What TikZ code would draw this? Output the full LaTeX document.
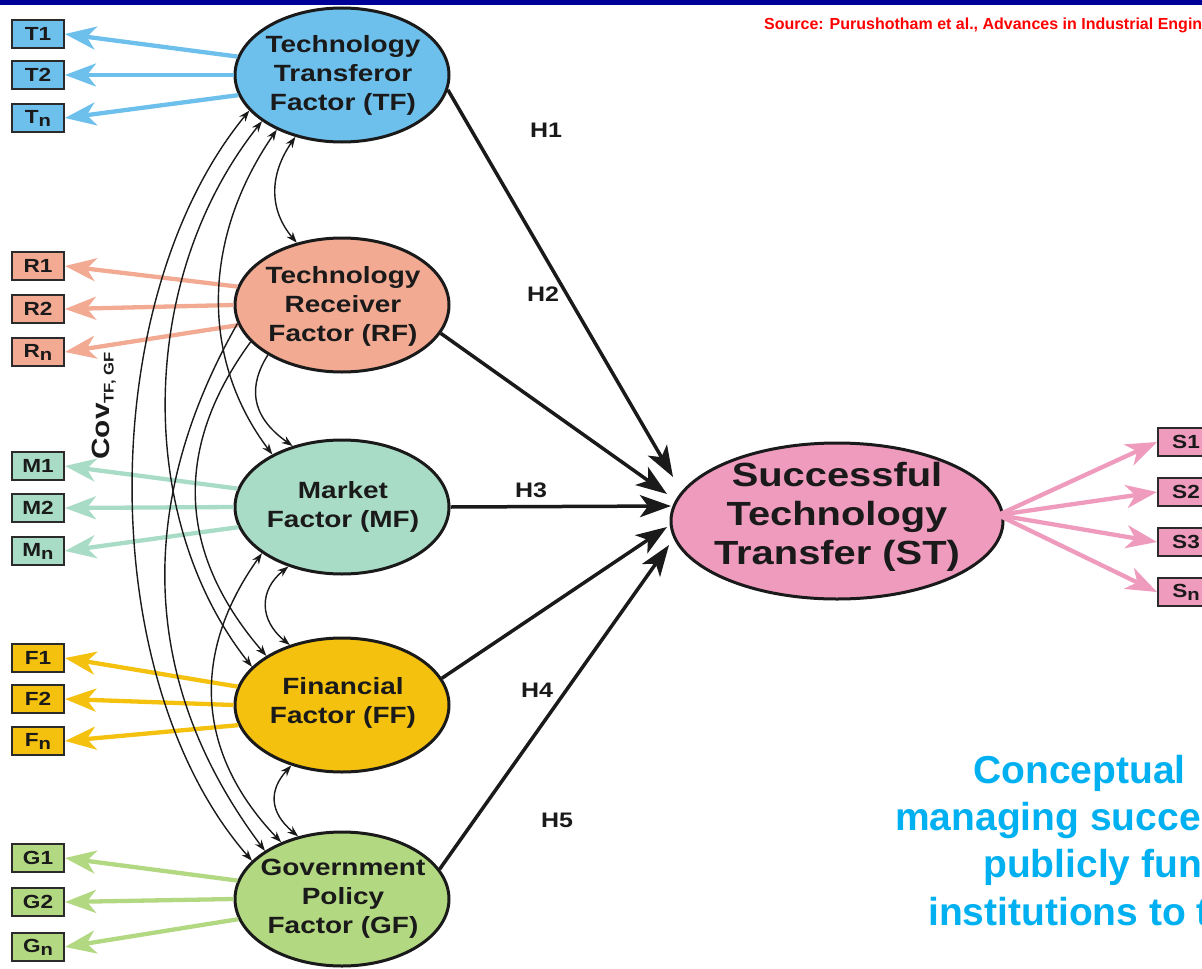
\documentclass[tikz,border=0pt]{standalone}
\usepackage{fontspec}
\setmainfont{Liberation Sans}[FakeStretch=1.19]
\newfontfamily\plainsans{Liberation Sans}
\usetikzlibrary{arrows.meta,shapes.geometric}
\definecolor{ink}{HTML}{1A1A1A}
\definecolor{boxline}{HTML}{2B2B2B}
\definecolor{tfc}{HTML}{6DC0EC}
\definecolor{rfc}{HTML}{F2AA93}
\definecolor{mfc}{HTML}{A9DCC7}
\definecolor{ffc}{HTML}{F5C10F}
\definecolor{gfc}{HTML}{B3D882}
\definecolor{stc}{HTML}{EF9BBE}
\definecolor{barblue}{HTML}{000099}
\definecolor{srcred}{HTML}{FF0000}
\definecolor{titleblue}{HTML}{00B0F0}
\newcommand{\subn}{\raisebox{-3pt}{\fontsize{17}{17}\selectfont n}}
\begin{document}
\begin{tikzpicture}[x=1pt,y=-1pt,
  ell/.style={ellipse, draw=ink, line width=3pt, minimum width=214pt, minimum height=134pt, inner sep=0pt},
  etxt/.style={align=center, font=\bfseries\fontsize{23.5}{29}\selectfont, text=ink, inner sep=0pt},
  ibox/.style={draw=boxline, line width=2pt, minimum width=52pt, minimum height=28pt, inner sep=0pt, font=\bfseries\fontsize{19}{19}\selectfont, text=ink},
  ind/.style={line width=4.3pt, -{Stealth[length=31pt,width=23pt,inset=9pt]}},
  hyp/.style={line width=3.5pt, draw=ink, -{Stealth[length=31pt,width=22pt,inset=8pt]}},
  cov/.style={line width=1.4pt, draw=ink, {Stealth[length=11pt,width=8pt]}-{Stealth[length=11pt,width=8pt]}},
  covone/.style={line width=1.4pt, draw=ink, -{Stealth[length=11pt,width=8pt]}},
  hlab/.style={font=\bfseries\fontsize{21}{21}\selectfont, text=ink}]
\useasboundingbox (0,0) rectangle (1202,969);
\fill[white] (0,0) rectangle (1202,969);
\fill[barblue] (0,0) rectangle (1202,5);
\node[anchor=base west, font=\plainsans\bfseries\fontsize{16}{16}\selectfont, text=srcred, inner sep=0pt] (src) at (764,29) {Source: Purushotham et al., Advances in Industrial Engine};

% latent factors
\node[ell, fill=tfc] (TF) at (342,75) {};
\node[ell, fill=rfc] (RF) at (342,305) {};
\node[ell, fill=mfc] (MF) at (342,507) {};
\node[ell, fill=ffc] (FF) at (342,705) {};
\node[ell, fill=gfc] (GF) at (342,899) {};
\node[ellipse, draw=ink, line width=3pt, minimum width=332pt, minimum height=156pt, inner sep=0pt, fill=stc] (ST) at (837,521) {};
\node[etxt] (TFt) at (343,75) {Technology\\Transferor\\Factor (TF)};
\node[etxt] (RFt) at (343,306) {Technology\\Receiver\\Factor (RF)};
\node[etxt] (MFt) at (343,507) {Market\\Factor (MF)};
\node[etxt] (FFt) at (343,703) {Financial\\Factor (FF)};
\node[etxt] (GFt) at (343,899) {Government\\Policy\\Factor (GF)};
\node[etxt, font=\bfseries\fontsize{33.5}{39}\selectfont] (STt) at (837,517) {Successful\\Technology\\Transfer (ST)};

% indicator boxes
\node[ibox, fill=tfc] (T1) at (38,34) {T1};
\node[ibox, fill=tfc] (T2) at (38,75) {T2};
\node[ibox, fill=tfc] (Tn) at (38,118) {T\subn};
\node[ibox, fill=rfc] (R1) at (38,266) {R1};
\node[ibox, fill=rfc] (R2) at (38,309) {R2};
\node[ibox, fill=rfc] (Rn) at (38,352) {R\subn};
\node[ibox, fill=mfc] (M1) at (38,466) {M1};
\node[ibox, fill=mfc] (M2) at (38,508) {M2};
\node[ibox, fill=mfc] (Mn) at (38,551) {M\subn};
\node[ibox, fill=ffc] (F1) at (38,658) {F1};
\node[ibox, fill=ffc] (F2) at (38,699) {F2};
\node[ibox, fill=ffc] (Fn) at (38,741) {F\subn};
\node[ibox, fill=gfc] (G1) at (38,858) {G1};
\node[ibox, fill=gfc] (G2) at (38,902) {G2};
\node[ibox, fill=gfc] (Gn) at (38,947) {G\subn};
\node[ibox, fill=stc, minimum width=56pt] (S1) at (1186,442) {S1};
\node[ibox, fill=stc, minimum width=56pt] (S2) at (1186,492) {S2};
\node[ibox, fill=stc, minimum width=56pt] (S3) at (1186,542) {S3};
\node[ibox, fill=stc, minimum width=56pt] (Sn) at (1186,592) {S\subn};

% indicator arrows
\foreach \f/\c/\a/\b/\n in {TF/tfc/T1/T2/Tn, RF/rfc/R1/R2/Rn, MF/mfc/M1/M2/Mn, FF/ffc/F1/F2/Fn, GF/gfc/G1/G2/Gn}{
  \draw[ind, draw=\c, fill=\c] (\f.170) -- (\a.east);
  \draw[ind, draw=\c, fill=\c] (\f.180) -- (\b.east);
  \draw[ind, draw=\c, fill=\c] (\f.191) -- (\n.east);
}
\coordinate (STr) at (998,515);
\foreach \s in {S1,S2,S3,Sn}{
  \draw[ind, draw=stc, fill=stc] (STr) -- (\s.west);
}

% covariances
\draw[cov] (TF.201) .. controls (94,300) and (94,680) .. (GF.157);
\draw[cov] (TF.210) .. controls (136,280) and (136,520) .. (FF.157);
\draw[cov] (TF.220) .. controls (201,240) and (201,360) .. (MF.143);
\draw[cov] (TF.233) .. controls (269,175) and (269,210) .. (RF.126);
\draw[covone] (RF.214) .. controls (249,385) and (249,415) .. (MF.129);
\draw[covone] (RF.202) .. controls (175,445) and (175,550) .. (FF.147);
\draw[covone] (RF.190) .. controls (137,500) and (137,680) .. (GF.148);
\draw[cov] (MF.210) .. controls (193,650) and (193,750) .. (GF.137);
\draw[cov] (MF.228) .. controls (259,590) and (259,620) .. (FF.131);
\draw[cov] (FF.230) .. controls (269,790) and (269,812) .. (GF.125);
\node[rotate=90, font=\bfseries\fontsize{25}{25}\selectfont, text=ink, inner sep=0pt] (cov) at (104,406) {Cov{\fontsize{14}{14}\selectfont\raisebox{-4pt}{TF, GF}}};

% hypotheses
\coordinate (h1) at (673,477);
\coordinate (h2) at (667,494);
\coordinate (h3) at (671,506);
\coordinate (h4) at (667,527);
\coordinate (h5) at (669,545);
\draw[hyp] (TF.-8) -- (h1);
\draw[hyp] (RF.-16) -- (h2);
\draw[hyp] (MF.east) -- (h3);
\draw[hyp] (FF.15) -- (h4);
\draw[hyp] (GF.17) -- (h5);
\node[hlab] (H1) at (546,130) {H1};
\node[hlab] (H2) at (543,294) {H2};
\node[hlab] (H3) at (531,490) {H3};
\node[hlab] (H4) at (537,690) {H4};
\node[hlab] (H5) at (557,820) {H5};

% title overlay
\begin{scope}[every node/.style={anchor=base west, inner sep=0pt, text=titleblue, font=\plainsans\bfseries\fontsize{39}{47}\selectfont}]
\node (c1) at (973,783) {Conceptual};
\node (c2) at (895,830) {managing succe};
\node (c3) at (983,877) {publicly fun};
\node (c4) at (928,925) {institutions to t};
\end{scope}
\end{tikzpicture}
\end{document}
